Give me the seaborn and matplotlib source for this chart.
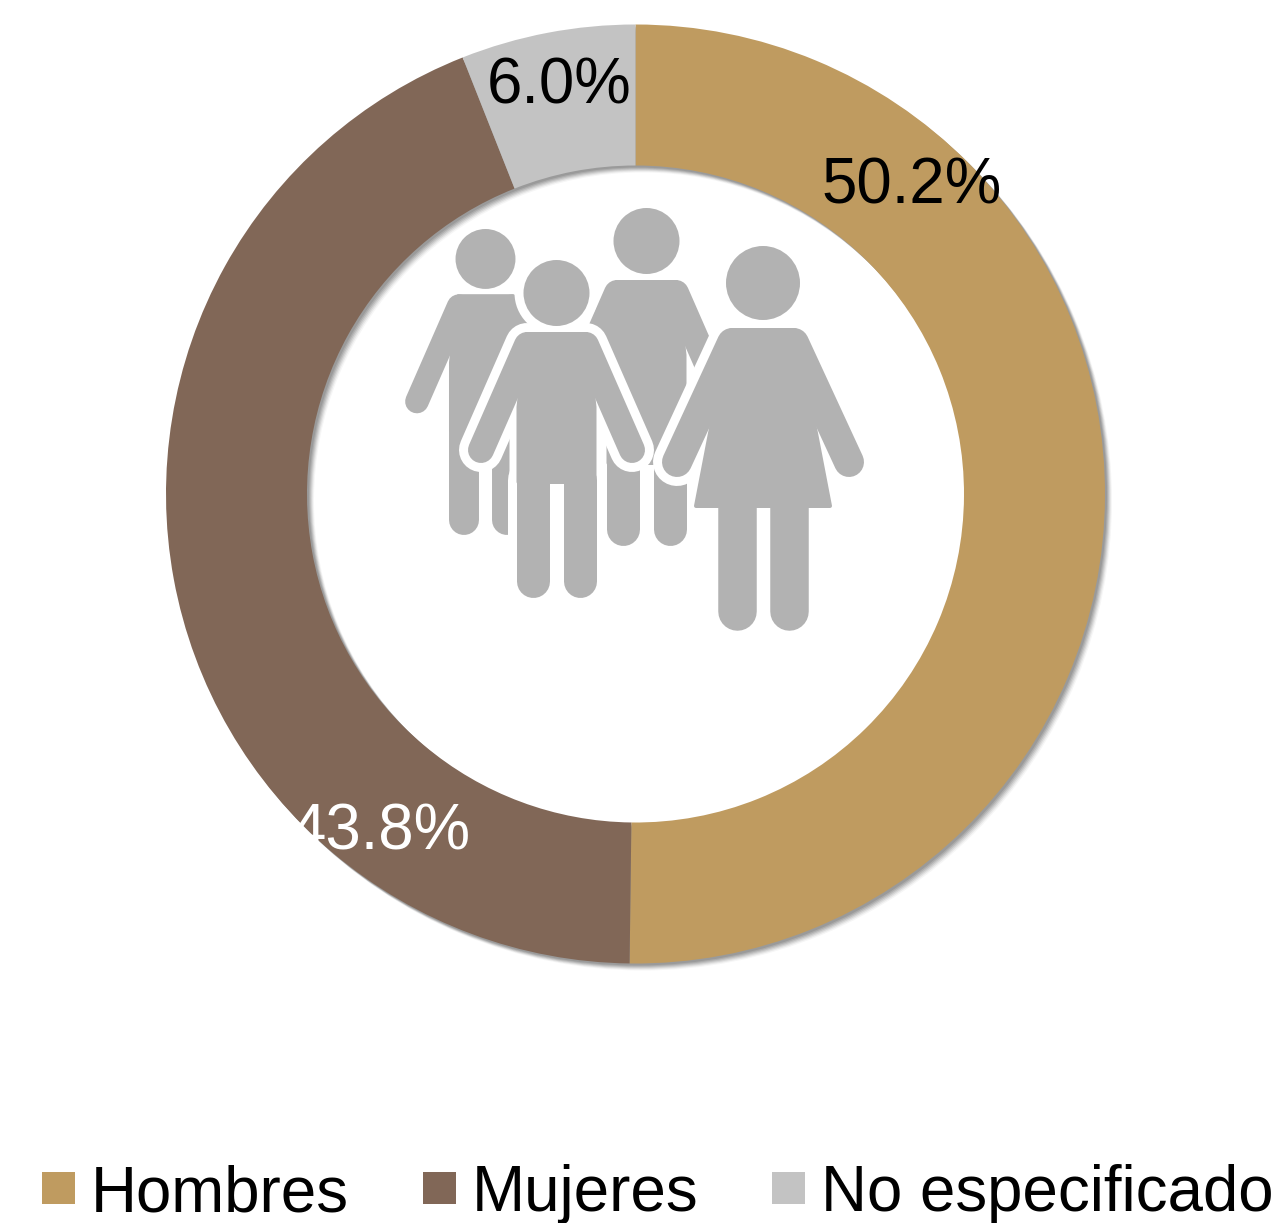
import matplotlib
matplotlib.use('Agg')
import matplotlib.pyplot as plt
from matplotlib.patches import Circle, Polygon
import seaborn as sns

# Data
categories = ['Hombres', 'Mujeres', 'No especificado']
values = [50.2, 43.8, 6.0]
hex_colors = ['#BF9B60', '#816757', '#C3C3C3']
label_colors = ['black', 'white', 'black']

sns.set_theme(style='white')
plt.rcParams['font.family'] = ['Liberation Sans', 'DejaVu Sans']
palette = sns.color_palette(hex_colors)

W, H = 1281, 1223
fig = plt.figure(figsize=(W / 100, H / 100), dpi=100)
ax = fig.add_axes([0, 0, 1, 1])

cx, cy = 635.5, H - 494
radius = 469.5
ring = 141

# soft shadow under the ring, offset down and right
for off, a in [(7, 0.06), (6, 0.10), (5, 0.14), (4, 0.18), (3, 0.22), (2, 0.25)]:
    ax.pie([1], colors=['#666666'], radius=radius, center=(cx + off, cy - off),
           wedgeprops=dict(width=ring, alpha=a, linewidth=0))

wedges, _ = ax.pie(values, colors=palette, startangle=90, counterclock=False,
                   radius=radius, center=(cx, cy),
                   wedgeprops=dict(width=ring, linewidth=0))

ax.set_xlim(0, W)
ax.set_ylim(0, H)
ax.set_aspect('equal')
ax.axis('off')

# percent labels
label_pos = [(911.5, 187), (381, 833), (559.5, 86)]
for v, pos, c in zip(values, label_pos, label_colors):
    ax.text(pos[0], H - pos[1], f'{v:.1f}%', color=c, fontsize=45.8,
            ha='center', va='center', zorder=10)

# people icon, sizes below are in pixels
GRAY = '#B2B2B2'
PX = 0.72


def limb(p0, p1, width, halo, z):
    color = 'white' if halo else GRAY
    lw = (width + 2 * halo) * PX
    ax.plot([p0[0], p1[0]], [H - p0[1], H - p1[1]], color=color, lw=lw,
            solid_capstyle='round', zorder=z)


def body(pts, halo, z):
    pts = [(x, H - y) for x, y in pts]
    if halo:
        ax.add_patch(Polygon(pts, closed=True, fc='white', ec='white',
                             lw=2 * halo * PX, joinstyle='round', zorder=z))
    else:
        ax.add_patch(Polygon(pts, closed=True, fc=GRAY, ec=GRAY,
                             lw=4 * PX, joinstyle='round', zorder=z))


def head(x, y, r, halo, z):
    if halo:
        ax.add_patch(Circle((x, H - y), r + halo, fc='white', ec='none', zorder=z))
    else:
        ax.add_patch(Circle((x, H - y), r, fc=GRAY, ec='none', zorder=z))


def man(x, top, s, halo, z, crotch=222):
    for h, zz in ([(halo, z), (0, z + 0.5)] if halo else [(0, z + 0.5)]):
        head(x, top + 33 * s, 33 * s, h, zz)
        body([(x - 30 * s, top + 74 * s), (x + 30 * s, top + 74 * s),
              (x + 38 * s, top + 147 * s), (x + 38 * s, top + crotch * s),
              (x - 38 * s, top + crotch * s), (x - 38 * s, top + 147 * s)], h, zz)
        for sign in (-1, 1):
            limb((x + sign * 29.5 * s, top + 85 * s),
                 (x + sign * 75.5 * s, top + 190 * s), 26 * s, h, zz)
            limb((x + sign * 23.5 * s, top + 220 * s),
                 (x + sign * 23.5 * s, top + 320.5 * s), 33 * s, h, zz)


def woman(x, halo, z):
    for h, zz in [(halo, z), (0, z + 0.5)]:
        head(x, 283, 37, h, zz)
        body([(x - 32, 330), (x + 32, 330), (x + 53, 433), (x + 67, 506),
              (x - 67, 506), (x - 53, 433)], h, zz)
        for sign in (-1, 1):
            limb((x + sign * 31, 343), (x + sign * 86, 462), 30, h, zz)
            limb((x + sign * 26.25, 500), (x + sign * 26.25, 611), 38.5, h, zz)


man(485.5, 229, 0.908, 0, 3)
man(646.5, 208, 1.0, 0, 4, crotch=255)
man(556.5, 260, 1.0, 9, 5)
woman(763, 9, 6)

# legend
fig.legend(wedges, categories, ncol=3, loc='lower left',
           bbox_to_anchor=(42 / W, -1 / H), frameon=False,
           fontsize=45.8, handlelength=0.52, handleheight=0.39,
           handletextpad=0.25, columnspacing=1.16, borderpad=0,
           borderaxespad=0, labelcolor='black')

fig.savefig('out.png', dpi=100, facecolor='white')
